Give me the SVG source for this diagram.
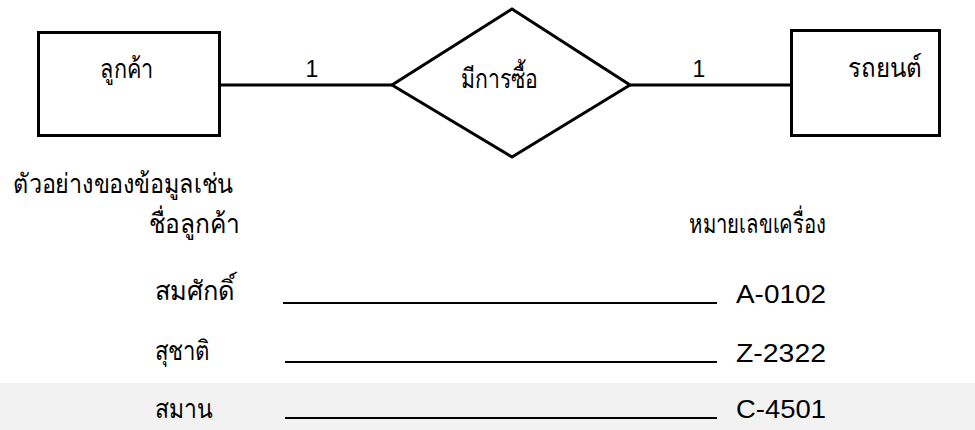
<svg xmlns="http://www.w3.org/2000/svg" width="975" height="430" viewBox="0 0 975 430">
  <style>
    .shape { fill: #ffffff; stroke: #000000; stroke-width: 3; }
    .link { stroke: #000000; stroke-width: 3; fill: none; }
    .rule { stroke: #000000; stroke-width: 2; }
    .th { font-family: "Liberation Sans", "Noto Sans", sans-serif; font-size: 27px; fill: #000000; }
    .lat { font-family: "Liberation Sans", Arial, sans-serif; font-size: 26px; fill: #000000; }
    .card { font-family: "Liberation Sans", Arial, sans-serif; font-size: 23px; fill: #000000; }
  </style>

  <rect x="0" y="0" width="975" height="430" fill="#ffffff"/>
  <!-- light band behind the last row -->
  <rect x="0" y="383" width="975" height="47" fill="#f2f2f2"/>

  <!-- connectors -->
  <g id="connectors">
    <line class="link" x1="221" y1="85" x2="392" y2="85"/>
    <line class="link" x1="630" y1="85" x2="791" y2="85"/>
    <text class="card" x="312" y="77" text-anchor="middle">1</text>
    <text class="card" x="699" y="77" text-anchor="middle">1</text>
  </g>

  <!-- entity: customer -->
  <g id="customer">
    <rect class="shape" x="38.5" y="32.5" width="181" height="103"/>
    <text class="th" x="100" y="78" textLength="53" lengthAdjust="spacingAndGlyphs">ลูกค้า</text>
  </g>

  <!-- relationship: purchase -->
  <g id="purchase">
    <polygon class="shape" points="512,9 630,85 512,157 392,85"/>
    <text class="th" x="461" y="88" textLength="77" lengthAdjust="spacingAndGlyphs">มีการซื้อ</text>
  </g>

  <!-- entity: car -->
  <g id="car">
    <rect class="shape" x="791.5" y="30.5" width="148" height="105"/>
    <text class="th" x="848" y="77" textLength="74" lengthAdjust="spacingAndGlyphs">รถยนต์</text>
  </g>

  <!-- sample data -->
  <g id="sample">
    <text class="th" x="13" y="193" textLength="220" lengthAdjust="spacingAndGlyphs">ตัวอย่างของข้อมูลเช่น</text>
    <text class="th" x="149" y="233" textLength="91" lengthAdjust="spacingAndGlyphs">ชื่อลูกค้า</text>
    <text class="th" x="689" y="233" textLength="137" lengthAdjust="spacingAndGlyphs">หมายเลขเครื่อง</text>

    <text class="th" x="155" y="300" textLength="80" lengthAdjust="spacingAndGlyphs">สมศักดิ์</text>
    <line class="rule" x1="283" y1="303" x2="717" y2="303"/>
    <text class="lat" x="736" y="303" textLength="90" lengthAdjust="spacingAndGlyphs">A-0102</text>

    <text class="th" x="155" y="360" textLength="55" lengthAdjust="spacingAndGlyphs">สุชาติ</text>
    <line class="rule" x1="285" y1="362" x2="717" y2="362"/>
    <text class="lat" x="736" y="362" textLength="90" lengthAdjust="spacingAndGlyphs">Z-2322</text>

    <text class="th" x="155" y="418" fill="#333333" textLength="57" lengthAdjust="spacingAndGlyphs">สมาน</text>
    <line class="rule" x1="285" y1="418" x2="717" y2="418"/>
    <text class="lat" x="736" y="418" fill="#333333" textLength="90" lengthAdjust="spacingAndGlyphs">C-4501</text>
  </g>
</svg>
